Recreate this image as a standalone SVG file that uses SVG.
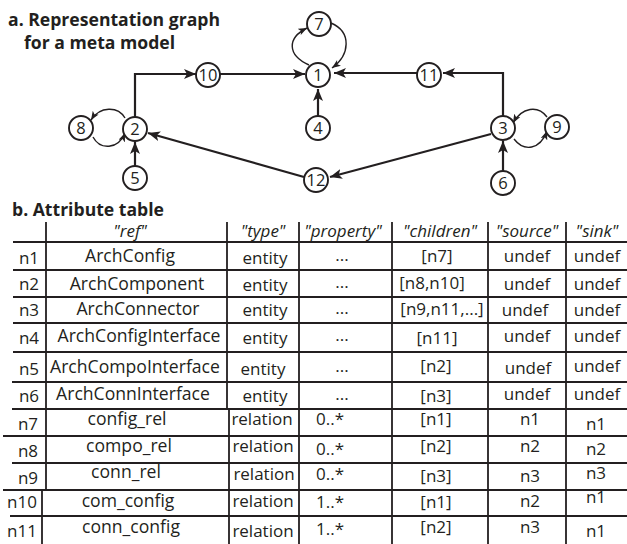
<svg xmlns="http://www.w3.org/2000/svg" width="627" height="544" viewBox="0 0 627 544">
  <style>
    .title { font-family: "Open Sans", "Noto Sans", sans-serif; font-weight: bold; font-size: 17.6px; fill: #231f20; }
    .node circle { fill: #fff; stroke: #231f20; stroke-width: 1.9; }
    .node text { font-family: "Open Sans", "Noto Sans", sans-serif; font-size: 16.5px; fill: #231f20; text-anchor: middle; }
    .edge { fill: none; stroke: #231f20; stroke-width: 2.2; marker-end: url(#arrow); }
    .loop { fill: none; stroke: #231f20; stroke-width: 1.4; marker-end: url(#arrow-small); }
    .grid line { stroke: #231f20; stroke-width: 1.8; }
    .cell { font-family: "Open Sans", "Noto Sans", sans-serif; font-size: 17px; fill: #231f20; text-anchor: middle; }
    .ref { font-size: 17.6px; }
    .head { font-family: "Open Sans", "Noto Sans", sans-serif; font-size: 17px; font-style: italic; fill: #231f20; text-anchor: middle; }
  </style>
  <defs>
    <marker id="arrow" viewBox="0 0 12 10" refX="12" refY="5" markerWidth="12" markerHeight="10" markerUnits="userSpaceOnUse" orient="auto">
      <path d="M0,0 L12,5 L0,10 L3,5 z" fill="#231f20"/>
    </marker>
    <marker id="arrow-small" viewBox="0 0 10 8" refX="10" refY="4" markerWidth="9" markerHeight="7" markerUnits="userSpaceOnUse" orient="auto">
      <path d="M0,0 L10,4 L0,8 L2.5,4 z" fill="#231f20"/>
    </marker>
  </defs>

  <!-- section a: representation graph -->
  <text class="title" x="8" y="26">a. Representation graph</text>
  <text class="title" x="24" y="49">for a meta model</text>

  <g id="connectors">
    <path class="edge" d="M135,117 V74 H196"/>
    <path class="edge" d="M220,74 H305"/>
    <path class="edge" d="M318,116 V89"/>
    <path class="edge" d="M417,73 H334"/>
    <path class="edge" d="M503,116 V73 H443"/>
    <path class="edge" d="M503,171 V141"/>
    <path class="edge" d="M135,166 V142"/>
    <path class="edge" d="M491,134 L330,177"/>
    <path class="edge" d="M304,177 L148,133"/>
    <path class="loop" d="M309,65 C287,55 287,38 307,28"/>
    <path class="loop" d="M331,23 C352,32 350,55 332,68"/>
    <path class="loop" d="M125,118 C118,106 100,106 91,120"/>
    <path class="loop" d="M93,137 C100,150 118,150 125,133"/>
    <path class="loop" d="M547,117 C538,105 522,107 513,123"/>
    <path class="loop" d="M514,139 C524,152 540,150 547,131"/>
  </g>

  <g id="n1" class="node"><circle cx="318" cy="75" r="12"/><text x="318" y="81">1</text></g>
  <g id="n2" class="node"><circle cx="135" cy="129" r="12"/><text x="135" y="135">2</text></g>
  <g id="n3" class="node"><circle cx="503" cy="128" r="12"/><text x="503" y="134">3</text></g>
  <g id="n4" class="node"><circle cx="318" cy="128" r="12"/><text x="318" y="134">4</text></g>
  <g id="n5" class="node"><circle cx="135" cy="178" r="12"/><text x="135" y="184">5</text></g>
  <g id="n6" class="node"><circle cx="503" cy="183" r="12"/><text x="503" y="189">6</text></g>
  <g id="n7" class="node"><circle cx="319" cy="24" r="12"/><text x="319" y="30">7</text></g>
  <g id="n8" class="node"><circle cx="81" cy="128" r="12"/><text x="81" y="134">8</text></g>
  <g id="n9" class="node"><circle cx="557" cy="127" r="12"/><text x="557" y="133">9</text></g>
  <g id="n10" class="node"><circle cx="208" cy="75" r="12"/><text x="208" y="81">10</text></g>
  <g id="n11" class="node"><circle cx="429" cy="75" r="12"/><text x="429" y="81">11</text></g>
  <g id="n12" class="node"><circle cx="316" cy="180" r="12"/><text x="316" y="186">12</text></g>

  <!-- section b: attribute table -->
  <text class="title" x="12" y="216">b. Attribute table</text>

  <g class="grid">
    <line x1="13" y1="242" x2="627" y2="242"/>
    <line x1="13" y1="270" x2="627" y2="270"/>
    <line x1="13" y1="297" x2="627" y2="297"/>
    <line x1="13" y1="323" x2="627" y2="323"/>
    <line x1="13" y1="352" x2="627" y2="352"/>
    <line x1="12" y1="382" x2="627" y2="382"/>
    <line x1="12" y1="409" x2="627" y2="409"/>
    <line x1="3" y1="436" x2="627" y2="436"/>
    <line x1="12" y1="463" x2="627" y2="463"/>
    <line x1="3" y1="490" x2="627" y2="490"/>
    <line x1="10" y1="516" x2="627" y2="516"/>
    <line x1="46" y1="222" x2="46" y2="490"/>
    <line x1="42" y1="490" x2="42" y2="544"/>
    <line x1="227" y1="222" x2="227" y2="409"/>
    <line x1="229" y1="409" x2="229" y2="544"/>
    <line x1="299" y1="222" x2="299" y2="544"/>
    <line x1="392" y1="222" x2="392" y2="544"/>
    <line x1="488" y1="222" x2="488" y2="544"/>
    <line x1="566" y1="222" x2="566" y2="544"/>
  </g>

  <g id="table-header">
    <text class="head" x="130" y="237">"ref"</text>
    <text class="head" x="263" y="237">"type"</text>
    <text class="head" x="343" y="237">"property"</text>
    <text class="head" x="440" y="237">"children"</text>
    <text class="head" x="527" y="237">"source"</text>
    <text class="head" x="597" y="237">"sink"</text>
  </g>

  <g id="table-rows">
    <text class="cell" x="29" y="264">n1</text>
    <text class="cell ref" x="130" y="262">ArchConfig</text>
    <text class="cell" x="265" y="264">entity</text>
    <text class="cell" x="342" y="261">...</text>
    <text class="cell" x="437" y="262">[n7]</text>
    <text class="cell" x="527" y="262">undef</text>
    <text class="cell" x="597" y="262">undef</text>

    <text class="cell" x="29" y="290">n2</text>
    <text class="cell ref" x="137" y="290">ArchComponent</text>
    <text class="cell" x="265" y="291">entity</text>
    <text class="cell" x="342" y="288">...</text>
    <text class="cell" x="432" y="289">[n8,n10]</text>
    <text class="cell" x="527" y="290">undef</text>
    <text class="cell" x="597" y="290">undef</text>

    <text class="cell" x="29" y="316">n3</text>
    <text class="cell ref" x="138" y="315">ArchConnector</text>
    <text class="cell" x="265" y="316">entity</text>
    <text class="cell" x="342" y="314">...</text>
    <text class="cell" x="442" y="315">[n9,n11,...]</text>
    <text class="cell" x="525" y="316">undef</text>
    <text class="cell" x="597" y="316">undef</text>

    <text class="cell" x="29" y="344">n4</text>
    <text class="cell ref" x="139" y="342">ArchConfigInterface</text>
    <text class="cell" x="265" y="344">entity</text>
    <text class="cell" x="342" y="341">...</text>
    <text class="cell" x="437" y="344">[n11]</text>
    <text class="cell" x="527" y="342">undef</text>
    <text class="cell" x="597" y="342">undef</text>

    <text class="cell" x="29" y="375">n5</text>
    <text class="cell ref" x="135" y="373">ArchCompoInterface</text>
    <text class="cell" x="263" y="375">entity</text>
    <text class="cell" x="342" y="372">...</text>
    <text class="cell" x="436" y="372">[n2]</text>
    <text class="cell" x="528" y="374">undef</text>
    <text class="cell" x="597" y="372">undef</text>

    <text class="cell" x="29" y="402">n6</text>
    <text class="cell ref" x="133" y="400">ArchConnInterface</text>
    <text class="cell" x="265" y="402">entity</text>
    <text class="cell" x="342" y="400">...</text>
    <text class="cell" x="436" y="402">[n3]</text>
    <text class="cell" x="527" y="400">undef</text>
    <text class="cell" x="597" y="400">undef</text>

    <text class="cell" x="28" y="430">n7</text>
    <text class="cell ref" x="127" y="425">config_rel</text>
    <text class="cell" x="262" y="425">relation</text>
    <text class="cell" x="330" y="425">0..*</text>
    <text class="cell" x="436" y="425">[n1]</text>
    <text class="cell" x="530" y="425">n1</text>
    <text class="cell" x="596" y="430">n1</text>

    <text class="cell" x="28" y="457">n8</text>
    <text class="cell ref" x="129" y="452">compo_rel</text>
    <text class="cell" x="263" y="452">relation</text>
    <text class="cell" x="330" y="455">0..*</text>
    <text class="cell" x="436" y="452">[n2]</text>
    <text class="cell" x="530" y="452">n2</text>
    <text class="cell" x="596" y="455">n2</text>

    <text class="cell" x="28" y="484">n9</text>
    <text class="cell ref" x="126" y="478">conn_rel</text>
    <text class="cell" x="264" y="480">relation</text>
    <text class="cell" x="330" y="480">0..*</text>
    <text class="cell" x="436" y="482">[n3]</text>
    <text class="cell" x="530" y="482">n3</text>
    <text class="cell" x="596" y="479">n3</text>

    <text class="cell" x="22" y="508">n10</text>
    <text class="cell ref" x="128" y="507">com_config</text>
    <text class="cell" x="263" y="507">relation</text>
    <text class="cell" x="330" y="508">1..*</text>
    <text class="cell" x="436" y="508">[n1]</text>
    <text class="cell" x="530" y="507">n2</text>
    <text class="cell" x="596" y="503">n1</text>

    <text class="cell" x="22" y="537">n11</text>
    <text class="cell ref" x="131" y="533">conn_config</text>
    <text class="cell" x="263" y="537">relation</text>
    <text class="cell" x="330" y="535">1..*</text>
    <text class="cell" x="436" y="533">[n2]</text>
    <text class="cell" x="530" y="533">n3</text>
    <text class="cell" x="596" y="537">n1</text>
  </g>
</svg>
